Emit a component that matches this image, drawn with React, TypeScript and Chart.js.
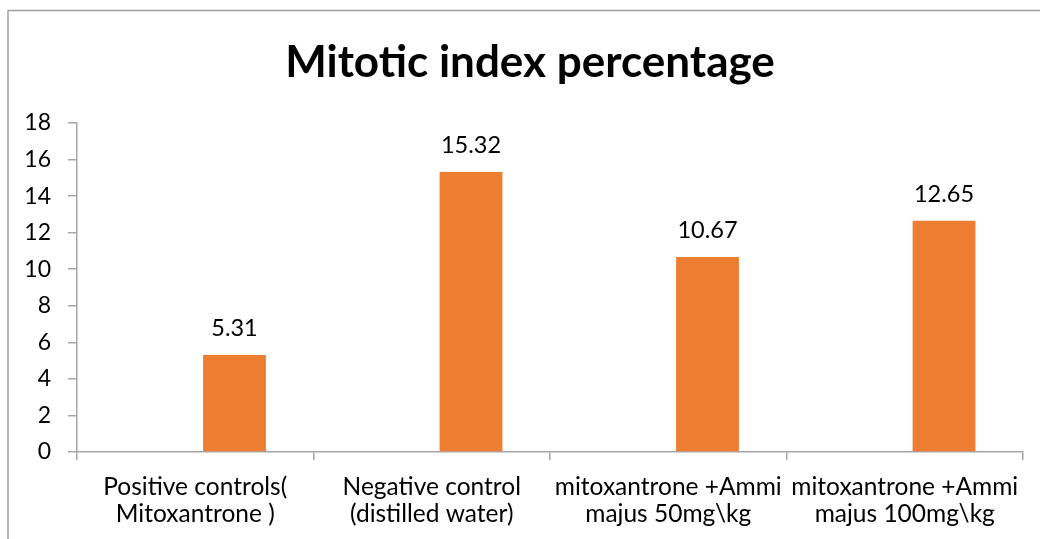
import React, { useEffect, useRef } from "react";
import { Chart, registerables } from "chart.js";

Chart.register(...registerables);

const categories: string[][] = [
  ["Positive controls(", "Mitoxantrone )"],
  ["Negative control", "(distilled water)"],
  ["mitoxantrone +Ammi", "majus 50mg\\kg"],
  ["mitoxantrone +Ammi", "majus 100mg\\kg"],
];
const mitoticIndex: number[] = [5.31, 15.32, 10.67, 12.65];
const emptySeries: (number | null)[] = [null, null, null, null];
const titleText = "Mitotic index percentage";

const FONT = "Lato, 'Liberation Sans', sans-serif";
const GRAY = "#a6a6a6";

const framePlugin = {
  id: "frame",
  beforeDraw(chart: any) {
    const ctx = chart.ctx;
    ctx.save();
    ctx.fillStyle = "#ffffff";
    ctx.fillRect(0, 0, chart.width, chart.height);
    ctx.strokeStyle = "#a0a0a0";
    ctx.lineWidth = 1.5;
    ctx.beginPath();
    ctx.moveTo(8, chart.height + 5);
    ctx.lineTo(8, 10.5);
    ctx.lineTo(chart.width + 5, 10.5);
    ctx.stroke();
    ctx.restore();
  },
  afterDraw(chart: any) {
    const ctx = chart.ctx;
    ctx.save();
    ctx.fillStyle = "#000000";
    ctx.font = `bold 44px ${FONT}`;
    ctx.textAlign = "center";
    ctx.textBaseline = "alphabetic";
    ctx.fillText(titleText, 530, 77);
    ctx.restore();
  },
};

const valueLabelPlugin = {
  id: "valueLabels",
  afterDatasetsDraw(chart: any) {
    const ctx = chart.ctx;
    const meta = chart.getDatasetMeta(1);
    ctx.save();
    ctx.fillStyle = "#000000";
    ctx.font = `23.5px ${FONT}`;
    ctx.textAlign = "center";
    ctx.textBaseline = "alphabetic";
    meta.data.forEach((bar: any, i: number) => {
      const v = chart.data.datasets[1].data[i];
      if (v == null) return;
      ctx.fillText(Number(v).toFixed(2), bar.x, bar.y - 19);
    });
    ctx.restore();
  },
};

export default function App() {
  const ref = useRef<HTMLCanvasElement>(null);
  useEffect(() => {
    document.body.style.margin = "0";
    const chart = new Chart(ref.current!, {
      type: "bar",
      data: {
        labels: categories,
        datasets: [
          { label: "", data: emptySeries, backgroundColor: "rgba(0,0,0,0)" },
          { label: "Mitotic index", data: mitoticIndex, backgroundColor: "#ED7D31" },
        ],
      },
      options: {
        animation: false,
        responsive: false,
        devicePixelRatio: 1,
        datasets: { bar: { categoryPercentage: 0.664, barPercentage: 0.8 } },
        layout: { padding: { top: 123, right: 17, left: 0, bottom: 0 } },
        plugins: { legend: { display: false }, title: { display: false }, tooltip: { enabled: false } },
        scales: {
          x: {
            offset: true,
            grid: { display: true, drawOnChartArea: false, tickLength: 8, color: GRAY, offset: true, lineWidth: 1.5 },
            border: { display: true, color: GRAY, width: 1.5 },
            ticks: { color: "#000", font: { family: FONT, size: 24.5, lineHeight: "27px" }, padding: 14, maxRotation: 0, autoSkip: false },
            afterFit(scale: any) { scale.height = 87; },
          },
          y: {
            min: 0,
            max: 18,
            grid: { display: true, drawOnChartArea: false, tickLength: 9, color: GRAY, lineWidth: 1.5 },
            border: { display: true, color: GRAY, width: 1.5 },
            ticks: { stepSize: 2, color: "#000", font: { family: FONT, size: 23 }, padding: 17 },
            afterFit(scale: any) { scale.width = 77; },
          },
        },
      },
      plugins: [framePlugin, valueLabelPlugin],
    });
    return () => chart.destroy();
  }, []);
  return (
    <div style={{ position: "absolute", left: 0, top: 0, width: 1040, height: 539 }}>
      <canvas ref={ref} width={1040} height={539} />
    </div>
  );
}
